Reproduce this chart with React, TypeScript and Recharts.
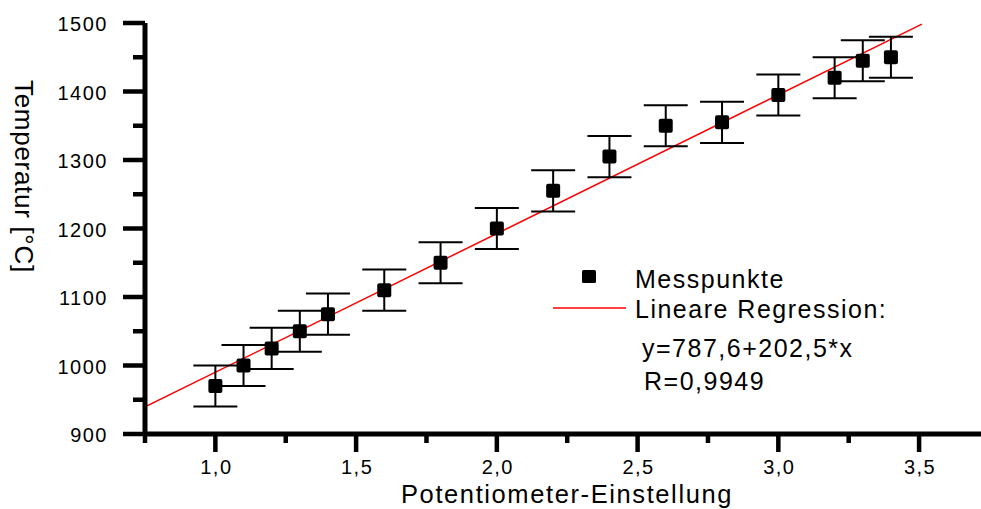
import React from 'react';
import { ComposedChart, Scatter, Line, ErrorBar, XAxis, YAxis, Legend } from 'recharts';

// measured values (potentiometer setting vs. temperature in °C)
const potiSettings = [1.0, 1.1, 1.2, 1.3, 1.4, 1.6, 1.8, 2.0, 2.2, 2.4, 2.6, 2.8, 3.0, 3.2, 3.3, 3.4];
const temperatures = [970, 1000, 1025, 1050, 1075, 1110, 1150, 1200, 1255, 1305, 1350, 1355, 1395, 1420, 1445, 1450];
const tempErrors = [30, 30, 30, 30, 30, 30, 30, 30, 30, 30, 30, 30, 30, 30, 30, 30];

// regression line end points
const fitX = [0.75, 3.51];
const fitY = [939.5, 1498.4];

const xTicks = [0.75, 1, 1.25, 1.5, 1.75, 2, 2.25, 2.5, 2.75, 3, 3.25, 3.5];
const yTicks = [900, 950, 1000, 1050, 1100, 1150, 1200, 1250, 1300, 1350, 1400, 1450, 1500];

const points = potiSettings.map((x, i) => ({ x, y: temperatures[i], err: tempErrors[i] }));
const fitLine = fitX.map((x, i) => ({ x, y: fitY[i] }));

const FONT = '"Liberation Sans", Arial, sans-serif';
const AXIS_W = 5;
const TICK_W = 4.5;

const YTick = (props: any) => {
  const { x, y, payload } = props;
  const major = payload.value % 100 === 0;
  const len = major ? 22 : 12;
  return (
    <g>
      <rect x={x - len} y={y - TICK_W / 2} width={len} height={TICK_W} fill="#000" />
      {major && (
        <text x={x - 37} y={y} dy={8} textAnchor="end" fontSize={20} fontFamily={FONT} letterSpacing={1.5} fill="#000">
          {payload.value}
        </text>
      )}
    </g>
  );
};

const XTick = (props: any) => {
  const { x, y, payload } = props;
  const v = payload.value;
  const major = v >= 1 && Math.abs(v * 2 - Math.round(v * 2)) < 1e-6;
  const len = major ? 18 : 9;
  return (
    <g>
      <rect x={x - TICK_W / 2} y={y} width={TICK_W} height={len} fill="#000" />
      {major && (
        <text x={x + 1} y={y + 40} textAnchor="middle" fontSize={20} fontFamily={FONT} letterSpacing={1.5} fill="#000">
          {v.toFixed(1).replace('.', ',')}
        </text>
      )}
    </g>
  );
};

const Square = (props: any) => {
  const { cx, cy } = props;
  return <rect x={cx - 7} y={cy - 7} width={14} height={14} rx={2} fill="#000" />;
};

const legendText = { fontSize: 25, fontFamily: FONT, letterSpacing: 1.5, fill: '#000' };

const LegendBox = () => (
  <svg width={390} height={140} style={{ display: 'block', overflow: 'visible' }}>
    <rect x={32} y={8} width={14} height={13} rx={1.5} fill="#000" />
    <line x1={3} x2={76} y1={46} y2={46} stroke="#ff0000" strokeWidth={1.5} />
    <text x={85} y={26} {...legendText}>Messpunkte</text>
    <text x={85} y={56} {...legendText}>Lineare Regression:</text>
    <text x={92} y={95} {...legendText}>y=787,6+202,5*x</text>
    <text x={94} y={128} {...legendText}>R=0,9949</text>
  </svg>
);

const YTitle = (props: any) => {
  const { viewBox } = props;
  const tx = viewBox.x + 15;
  const ty = viewBox.y + 57;
  return (
    <text x={tx} y={ty} transform={`rotate(90 ${tx} ${ty})`} textAnchor="start" fontSize={26} fontFamily={FONT} letterSpacing={0.7} fill="#000">
      Temperatur [°C]
    </text>
  );
};

const XTitle = (props: any) => {
  const { viewBox } = props;
  return (
    <text x={viewBox.x + viewBox.width / 2 + 4} y={viewBox.y + 69} textAnchor="middle" fontSize={25.5} fontFamily={FONT} letterSpacing={1.6} fill="#000">
      Potentiometer-Einstellung
    </text>
  );
};

export default function App() {
  return (
    <div style={{ position: 'absolute', left: 0, top: 0, background: '#fff' }}>
      <ComposedChart width={981} height={509} margin={{ top: 23, right: 0, bottom: 0, left: 0 }}>
        <XAxis
          type="number"
          dataKey="x"
          domain={[0.75, 3.72]}
          allowDataOverflow
          ticks={xTicks}
          interval={0}
          height={75}
          tickLine={false}
          tickSize={0}
          tickMargin={0}
          tick={<XTick />}
          axisLine={{ stroke: '#000', strokeWidth: AXIS_W }}
          label={<XTitle />}
        />
        <YAxis
          type="number"
          dataKey="y"
          domain={[900, 1500]}
          allowDataOverflow
          ticks={yTicks}
          interval={0}
          width={145}
          tickLine={false}
          tickSize={0}
          tickMargin={0}
          tick={<YTick />}
          axisLine={{ stroke: '#000', strokeWidth: AXIS_W }}
          label={<YTitle />}
        />
        <Legend
          layout="horizontal"
          verticalAlign="middle"
          align="center"
          wrapperStyle={{ left: 550, top: 262, width: 390, height: 140 }}
          content={() => <LegendBox />}
        />
        <Line
          data={fitLine}
          dataKey="y"
          name="Lineare Regression:"
          stroke="#ff0000"
          strokeWidth={1.5}
          dot={false}
          activeDot={false}
          isAnimationActive={false}
        />
        <Scatter data={points} dataKey="y" name="Messpunkte" shape={<Square />} isAnimationActive={false}>
          <ErrorBar dataKey="err" direction="y" width={22} stroke="#000" strokeWidth={2} isAnimationActive={false} />
        </Scatter>
      </ComposedChart>
    </div>
  );
}
